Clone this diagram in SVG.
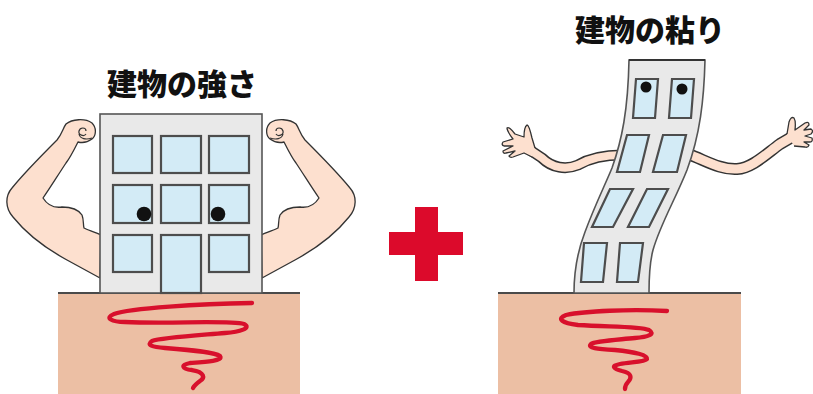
<svg xmlns="http://www.w3.org/2000/svg" width="813" height="394" viewBox="0 0 813 394">
  <style>
    .title { font-family: "Noto Sans CJK JP", "Noto Sans CJK SC", sans-serif; font-weight: 900; font-size: 30px; fill: #111; text-anchor: middle; }
    .ground { fill: #ecbfa4; }
    .groundline { stroke: #4a4a4a; stroke-width: 2; }
    .quake { fill: none; stroke: #d8102c; stroke-width: 4.3; stroke-linecap: round; stroke-linejoin: round; }
    .wall { fill: #e9e9e9; stroke: #555; stroke-width: 1.6; }
    .win { fill: #d3ebf6; stroke: #4d4d4d; stroke-width: 2.2; }
    .skin { fill: #fde0cf; stroke: #333; stroke-width: 1.3; stroke-linejoin: round; }
    .armOut { fill: none; stroke: #333; stroke-linecap: butt; stroke-linejoin: round; }
    .armIn { fill: none; stroke: #fde0cf; stroke-linecap: butt; stroke-linejoin: round; }
    .eye { fill: #111; }
    .plus { fill: #dc0a2b; }
  </style>
  <defs>
    <!-- flexed arm, drawn for the left side and mirrored for the right -->
    <g id="flexArm">
      <path class="skin" d="M100,278 L67,260 C45,248 25,232 13,217 C5,208 5,196 12,188 C25,172 45,152 57,140 C62,134 63,128 66,124 C72,119 85,118 92,123 C97,128 96,136 92,139 C88,142 82,143 78,142 C74,150 70,158 66,163 C58,175 50,188 43,198 C48,206 55,208 62,207 C70,207 78,209 82,215 C84,220 83,225 84,228 C88,230 95,232 101,235 Z"/>
      <path fill="none" stroke="#333" stroke-width="1.2" d="M86,131 C86,127 80,127 79,131 C78,135 84,137 86,134 M79,134 C80,139 86,140 92,138"/>
    </g>
  </defs>

  <!-- strong building -->
  <g id="strong">
    <text class="title" x="182" y="95">建物の強さ</text>
    <use href="#flexArm"/>
    <use href="#flexArm" transform="matrix(-1,0,0,1,362,0)"/>
    <rect class="ground" x="58" y="293" width="242" height="101"/>
    <line class="groundline" x1="58" y1="293" x2="300" y2="293"/>
    <rect class="wall" x="100" y="114" width="162" height="179"/>
    <rect class="win" x="113" y="136" width="39" height="37"/>
    <rect class="win" x="161" y="136" width="40" height="37"/>
    <rect class="win" x="209" y="136" width="40" height="37"/>
    <rect class="win" x="113" y="185" width="39" height="38"/>
    <rect class="win" x="161" y="185" width="40" height="38"/>
    <rect class="win" x="209" y="185" width="40" height="38"/>
    <rect class="win" x="113" y="235" width="39" height="37"/>
    <rect class="win" x="161" y="235" width="40" height="58"/>
    <rect class="win" x="209" y="235" width="40" height="37"/>
    <circle class="eye" cx="144" cy="214" r="7.3"/>
    <circle class="eye" cx="218" cy="214" r="7.3"/>
    <path class="quake" d="M252,303 C200,304 130,308 114,314 C104,318 112,322 125,322 C170,324 230,320 244,324 C252,328 240,332 225,333 C190,336 160,338 152,341 C146,345 152,347 165,348 C190,350 215,352 220,356 C224,361 205,362 190,363 C180,365 182,369 192,370 C205,372 205,378 200,381 C196,384 194,386 193,388"/>
  </g>

  <!-- plus sign -->
  <g id="plus">
    <rect class="plus" x="415" y="207" width="23" height="74"/>
    <rect class="plus" x="389" y="232" width="74" height="23"/>
  </g>

  <!-- flexible building -->
  <g id="flexible">
    <text class="title" x="650" y="41">建物の粘り</text>
    <!-- arms -->
    <path class="armOut" stroke-width="11" d="M622,155 C605,155 590,158 578,165 C566,170 552,168 542,158 L530,150"/>
    <path class="armIn" stroke-width="8" d="M622,155 C605,155 590,158 578,165 C566,170 552,168 542,158 L530,150"/>
    <path class="skin" d="M535,148 L532,138 Q529,125 527,125 Q524,127 524,137 L515,134 Q509,126 507,128 Q507,131 513,139 L503,142 Q501,145 504,146 L513,146 L503,151 Q503,154 506,153 L515,151 L509,156 Q510,158 513,157 L524,153 L532,157"/>
    <path class="armOut" stroke-width="12" d="M688,154 C705,160 720,170 737,169 C752,168 765,155 780,144 L792,137"/>
    <path class="armIn" stroke-width="9" d="M688,154 C705,160 720,170 737,169 C752,168 765,155 780,144 L792,137"/>
    <path class="skin" d="M787,134 L789,122 Q791,116 794,118 Q796,121 795,130 L805,123 Q809,121 809,125 L804,130 L811,129 Q814,131 811,134 L805,136 L812,138 Q813,142 810,142 L804,142 L809,145 Q808,148 805,147 L794,146"/>
    <rect class="ground" x="498" y="293" width="243" height="101"/>
    <line class="groundline" x1="498" y1="293" x2="741" y2="293"/>
    <path class="wall" d="M629,60 L705,60 C704,100 700,135 687,170 C675,200 660,225 653,250 C649,265 649,280 649,293 L574,293 C574,270 578,250 585,232 C595,205 605,185 612,168 C622,140 628,110 629,60 Z"/>
    <line x1="629" y1="60" x2="705" y2="60" stroke="#333" stroke-width="2.2"/>
    <polygon class="win" points="636,79 658,79 655,118 633,118"/>
    <polygon class="win" points="672,79 694,79 691,118 669,118"/>
    <polygon class="win" points="627,135 649,135 640,172 617,172"/>
    <polygon class="win" points="663,135 686,135 677,172 653,172"/>
    <polygon class="win" points="610,189 633,189 613,227 592,227"/>
    <polygon class="win" points="647,189 668,189 649,227 628,227"/>
    <polygon class="win" points="584,243 607,243 603,282 581,282"/>
    <polygon class="win" points="620,243 643,243 638,282 617,282"/>
    <circle class="eye" cx="646" cy="87" r="5.5"/>
    <circle class="eye" cx="682" cy="89" r="5.5"/>
    <path class="quake" d="M667,311 C630,309 585,311 566,315 C556,319 562,323 578,325 C610,327 640,326 649,330 C656,334 648,337 635,338 C615,340 595,341 591,344 C587,348 597,349 615,350 C635,352 648,355 647,359 C645,362 630,362 620,364 C610,366 614,369 622,371 C632,373 632,378 628,382 C625,385 625,387 625,389"/>
  </g>
</svg>
